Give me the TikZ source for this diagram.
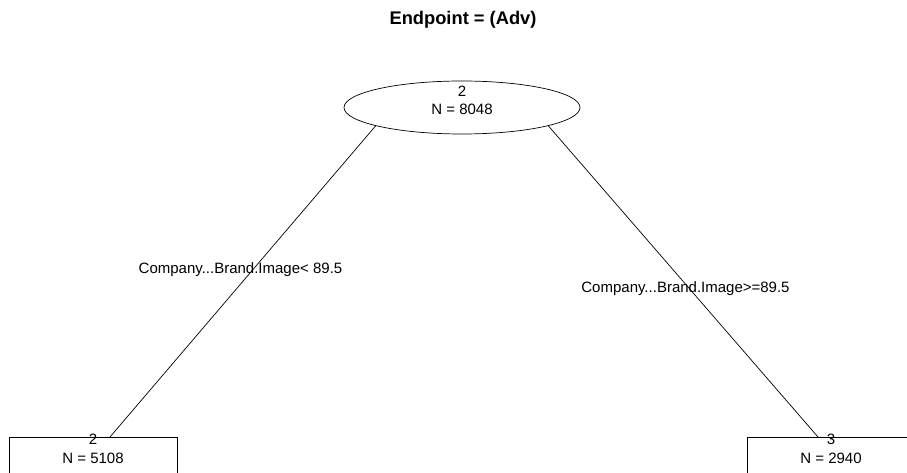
\documentclass[tikz,border=0pt]{standalone}
\usepackage{fontspec}
\setmainfont{Liberation Sans}
\usetikzlibrary{shapes.geometric,calc}
\tikzset{
  lbl/.style={font=\fontsize{15}{18.5}\selectfont, inner sep=0pt, align=center},
  ttl/.style={font=\fontsize{18.3}{22}\selectfont\bfseries, inner sep=0pt},
  split/.style={draw, ellipse, line width=0.7pt, minimum width=236pt, minimum height=53pt, inner sep=0pt},
  leaf/.style={draw, rectangle, line width=0.7pt, minimum width=168pt, minimum height=48pt, inner sep=0pt, anchor=north},
  edge/.style={line width=0.7pt}
}
\begin{document}
\begin{tikzpicture}[x=1pt,y=-1pt]
  \useasboundingbox[fill=white] (0,0) rectangle (907,473);
  \clip (0,0) rectangle (907,473);
  % title
  \node[ttl] (title) at (463,20) {Endpoint = (Adv)};
  % root split
  \node[split] (root) at (462,107.5) {};
  \node[lbl] (roottxt) at (462,100.5) {2\\N = 8048};
  % leaves
  \node[leaf] (lbox) at (93,437) {};
  \node[lbl] (ltxt) at (93,449) {2\\N = 5108};
  \node[leaf] (rbox) at (831,437) {};
  \node[lbl] (rtxt) at (831,449) {3\\N = 2940};
  % branches
  \draw[edge] (root.192) -- ($(lbox.north)+(17,0)$);
  \draw[edge] (root.-12) -- ($(rbox.north)+(-13,0)$);
  % split conditions
  \node[lbl] (lcond) at (240.5,270) {Company...Brand.Image< 89.5};
  \node[lbl] (rcond) at (685.5,289) {Company...Brand.Image>=89.5};
\end{tikzpicture}
\end{document}
